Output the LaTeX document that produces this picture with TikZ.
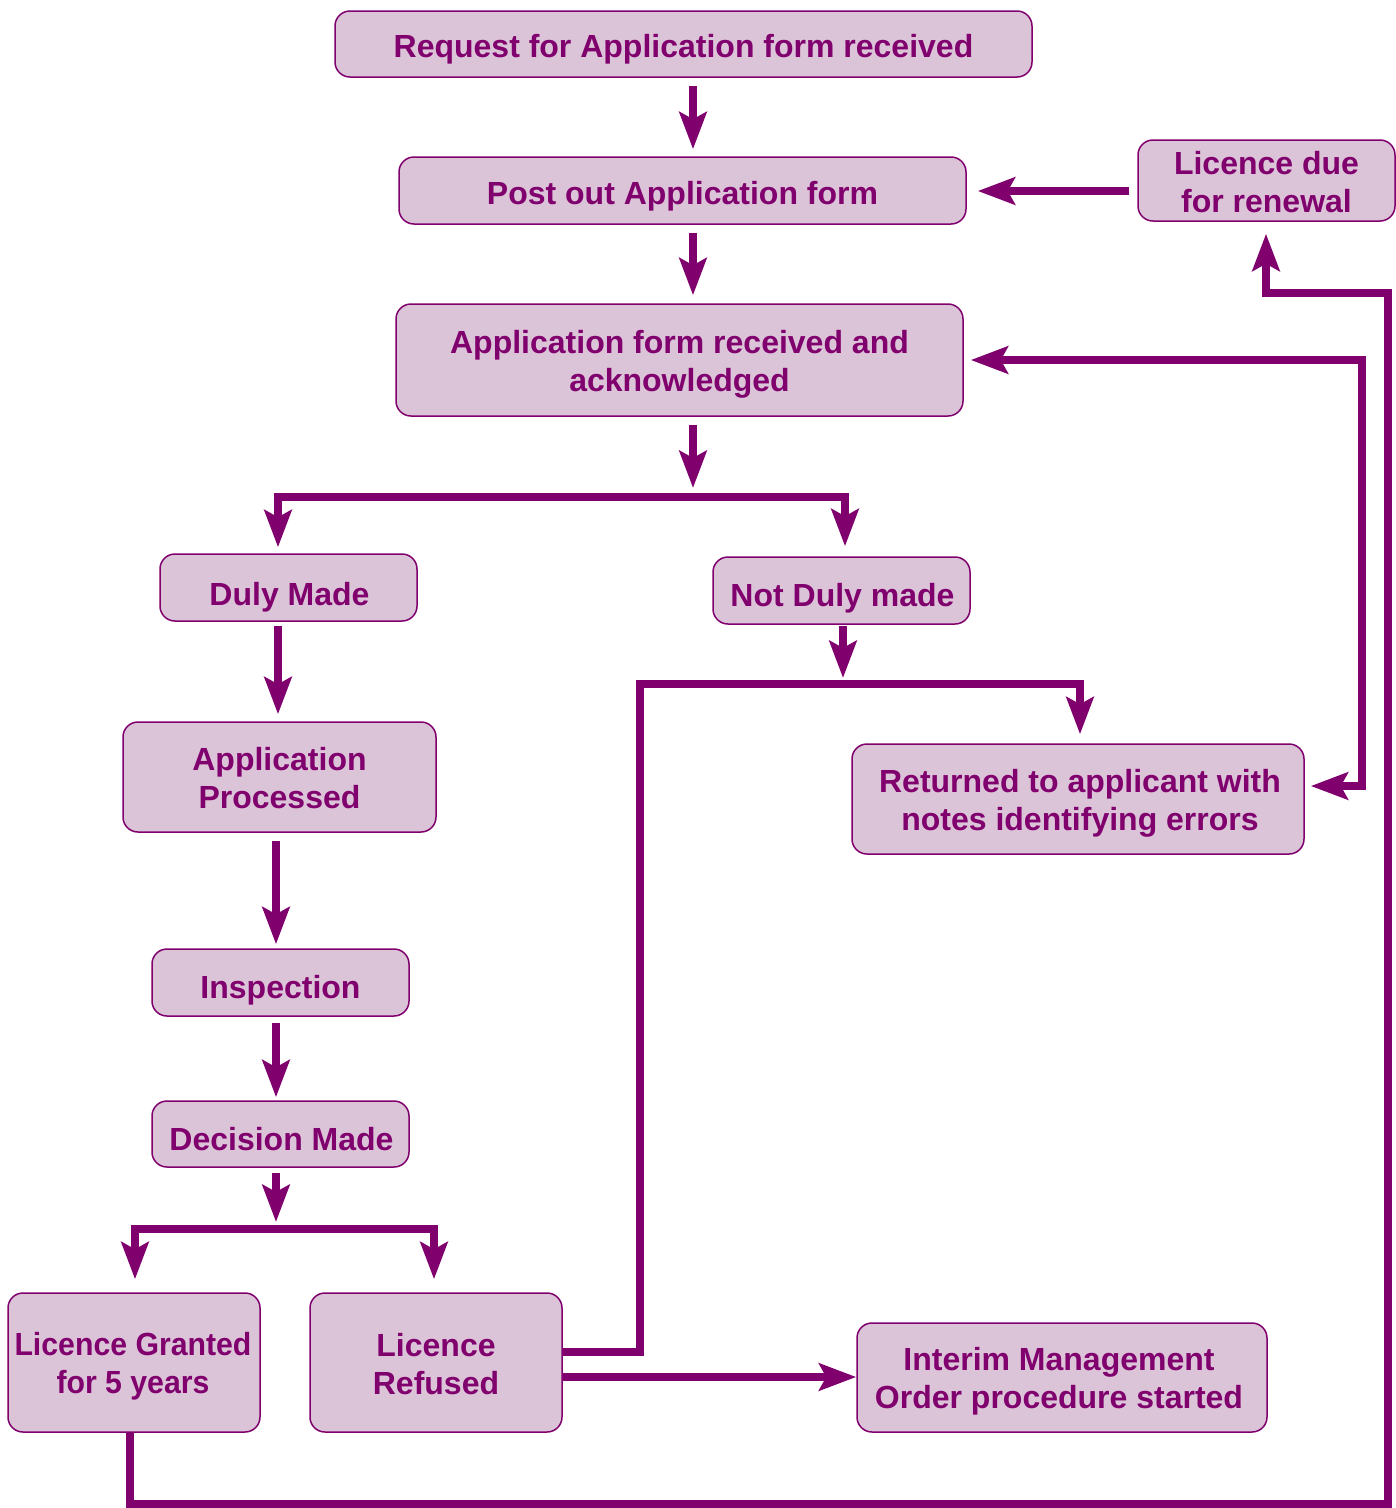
\documentclass[tikz,border=0pt]{standalone}
\usepackage{fontspec}
\usepackage{graphicx}
\setmainfont{Liberation Sans}
\usetikzlibrary{arrows.meta}
\definecolor{pur}{RGB}{128,0,110}
\definecolor{boxfill}{RGB}{220,196,216}
\newcommand{\cond}[1]{\scalebox{0.945}[1]{#1}}
\begin{document}
\begin{tikzpicture}[x=1pt,y=-1pt,
  box/.style={draw=pur, line width=1.5pt, fill=boxfill, rounded corners=15pt, inner sep=0pt},
  lbl/.style={inner sep=0pt, align=center, text=pur, font=\fontsize{32}{38}\selectfont\bfseries},
  tip/.tip={Stealth[length=37pt,width=27pt,inset=7pt]},
  flow/.style={draw=pur, line width=7.5pt, line join=miter, -tip},
  flowboth/.style={draw=pur, line width=7.5pt, line join=miter, tip-tip},
  plain/.style={draw=pur, line width=7.5pt, line join=miter}]
\useasboundingbox (0,0) rectangle (1396,1508);

\node[box, minimum width=697pt, minimum height=66pt] (req) at (683.5,44) {};
\node[box, minimum width=567pt, minimum height=67pt] (post) at (682.5,190.5) {};
\node[box, minimum width=257pt, minimum height=81pt] (due) at (1266.5,180.5) {};
\node[box, minimum width=567pt, minimum height=112pt] (app) at (679.5,360) {};
\node[box, minimum width=257pt, minimum height=67pt] (duly) at (288.5,587.5) {};
\node[box, minimum width=257pt, minimum height=67pt] (notduly) at (841.5,590.5) {};
\node[box, minimum width=313pt, minimum height=110pt] (proc) at (279.5,777) {};
\node[box, minimum width=452pt, minimum height=110pt] (ret) at (1078,799) {};
\node[box, minimum width=257pt, minimum height=67pt] (insp) at (280.5,982.5) {};
\node[box, minimum width=257pt, minimum height=66pt] (dec) at (280.5,1134) {};
\node[box, minimum width=252pt, minimum height=139pt] (gr) at (134,1362.5) {};
\node[box, minimum width=252pt, minimum height=139pt] (ref) at (436,1362.5) {};
\node[box, minimum width=410pt, minimum height=109pt] (imo) at (1062,1377.5) {};

\node[lbl] (reqt) at ([yshift=-5pt]req.center) {Request for Application form received};
\node[lbl] (postt) at ([yshift=-6pt]post.center) {Post out Application form};
\node[lbl] (duet) at ([yshift=-1.5pt]due.center) {Licence due\\for renewal};
\node[lbl] (appt) at ([yshift=-4pt]app.center) {Application form received and\\acknowledged};
\node[lbl] (dulyt) at ([yshift=-10pt,xshift=1pt]duly.center) {Duly Made};
\node[lbl] (notdulyt) at ([yshift=-8pt,xshift=1pt]notduly.center) {Not Duly made};
\node[lbl] (proct) at ([yshift=-1pt]proc.center) {Application\\Processed};
\node[lbl] (rett) at ([yshift=-4pt,xshift=2pt]ret.center) {Returned to applicant with\\notes identifying errors};
\node[lbl] (inspt) at ([yshift=-8pt]insp.center) {Inspection};
\node[lbl] (dect) at ([yshift=-5pt,xshift=1pt]dec.center) {Decision Made};
\node[lbl] (grt) at ([yshift=-3.5pt,xshift=-1pt]gr.center) {\cond{Licence Granted}\\\cond{for 5 years}};
\node[lbl] (reft) at ([yshift=-2pt]ref.center) {Licence\\Refused};
\node[lbl] (imot) at ([yshift=-4pt,xshift=-3pt]imo.center) {Interim Management\\Order procedure started};

\coordinate (fork1) at (693,497);
\coordinate (fork2) at (843,684);
\coordinate (fork3) at (276,1229);

\draw[flow, shorten <=8pt, shorten >=7pt] (req.south -| 693,0) -- (post.north -| 693,0);
\draw[flow, shorten <=8pt, shorten >=11pt] (due.west |- 0,191) -- (post.east |- 0,191);
\draw[flow, shorten <=8pt, shorten >=8pt] (post.south -| 693,0) -- (app.north -| 693,0);
\draw[flow, shorten <=8pt, shorten >=9pt] (app.south -| fork1) -- (fork1);
\draw[flow, shorten >=6pt] (fork1) -| (duly.north -| 278,0);
\draw[flow, shorten >=10pt] (fork1) -| (notduly.north -| 845,0);
\draw[flow, shorten <=1pt, shorten >=6pt] (notduly.south -| fork2) -- (fork2);
\draw[flow, shorten >=9pt] (fork2) -| (ret.north -| 1080,0);
\draw[plain] (fork2) -- (640,684) -- (640,1352) -- (ref.east |- 0,1352);
\draw[flowboth, shorten <=6pt, shorten >=7pt] (ret.east |- 0,786) -- (1362,786) -- (1362,360) -- (app.east |- 0,360);
\draw[flow, shorten <=4pt, shorten >=7pt] (duly.south -| 278,0) -- (proc.north -| 278,0);
\draw[flow, shorten <=8pt, shorten >=4pt] (proc.south -| 276,0) -- (insp.north -| 276,0);
\draw[flow, shorten <=6pt, shorten >=3pt] (insp.south -| 276,0) -- (dec.north -| 276,0);
\draw[flow, shorten <=5pt, shorten >=7pt] (dec.south -| fork3) -- (fork3);
\draw[flow, shorten >=13pt] (fork3) -| (gr.north -| 135,0);
\draw[flow, shorten >=13pt] (fork3) -| (ref.north -| 434,0);
\draw[flow] (ref.east |- 0,1377) -- (imo.west |- 0,1377);
\draw[flow, shorten >=12pt] (gr.south -| 130,0) -- (130,1504) -- (1388,1504) -- (1388,293) -- (1266,293) -- (due.south -| 1266,0);
\end{tikzpicture}
\end{document}
